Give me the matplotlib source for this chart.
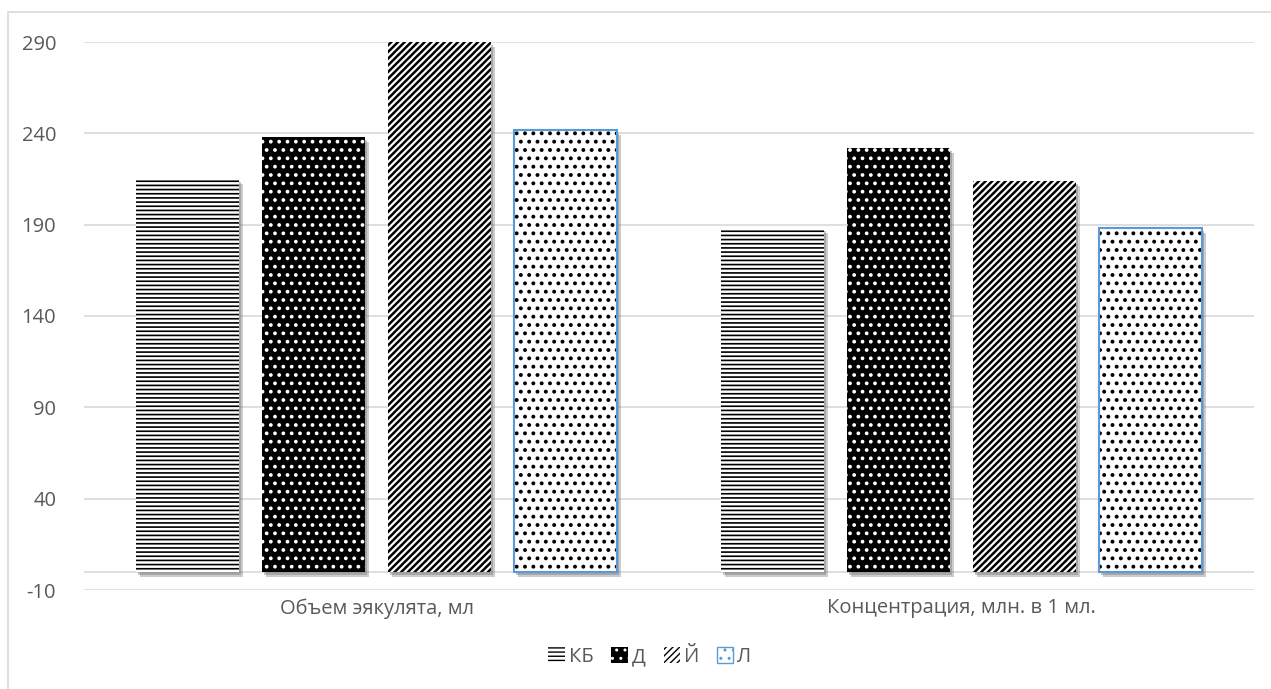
import matplotlib
matplotlib.use("Agg")
import matplotlib.pyplot as plt
from matplotlib.patches import Rectangle, Patch
import numpy as np

categories = ["Объем эякулята, мл", "Концентрация, млн. в 1 мл."]
series = ["КБ", "Д", "Й", "Л"]
kb = [215, 188]
d = [238, 232]
y_ = [290, 214]
l = [242, 188]
values = [kb, d, y_, l]
yticks = [-10, 40, 90, 140, 190, 240, 290]

plt.rcParams['font.family'] = ['Open Sans', 'DejaVu Sans']
plt.rcParams['axes.unicode_minus'] = False

fig = plt.figure(figsize=(12.71, 6.89), dpi=100)
ax = fig.add_axes([84/1271, 1-590/689, 1170/1271, 548/689])

styles = [
    dict(facecolor='white', edgecolor='black', hatch='----'),
    dict(facecolor='black', edgecolor='white', hatch='..'),
    dict(facecolor='white', edgecolor='black', hatch='/////'),
    dict(facecolor='white', edgecolor='black', hatch='..'),
]
hatch_lw = [1.2, 1.5, 1.8, 1.6]

x = np.arange(len(categories))
step = 0.2154
width = 0.176
sx = 4 / 585.0
sy = 5 * 300 / 548.0
for i, (name, vals, st) in enumerate(zip(series, values, styles)):
    pos = x + (i - 1.5) * step
    # soft shadow
    for k, a in zip([1.0, 0.6], [0.35, 0.4]):
        ax.bar(pos + sx * k, np.array(vals), width, bottom=-sy * k, color='#6F6F6F',
               alpha=a, linewidth=0, zorder=2)
    bars = ax.bar(pos, vals, width, linewidth=0, zorder=3, label=name, **st)
    for b in bars:
        if hasattr(b, 'set_hatch_linewidth'):
            b.set_hatch_linewidth(hatch_lw[i])
    if i == 3:
        ax.bar(pos, vals, width, fill=False, edgecolor='#5B9BD5', linewidth=1.5, zorder=4)

ax.set_xlim(-0.5, 1.5)
ax.set_ylim(-10, 290)
ax.set_yticks(yticks)
ax.set_xticks(x)
ax.set_xticklabels(categories)
ax.grid(axis='y', color='#D9D9D9', linewidth=1.2, zorder=0)
ax.axhline(0, color='#D9D9D9', linewidth=1.2, zorder=1)
for s in ax.spines.values():
    s.set_visible(False)
ax.tick_params(axis='both', length=0, labelsize=14.5, colors='#595959')
ax.tick_params(axis='y', pad=20)
ax.tick_params(axis='x', pad=6)

handles = []
for i, (name, st) in enumerate(zip(series, styles)):
    h = Patch(facecolor=st['facecolor'], edgecolor=st['edgecolor'], hatch=st['hatch'],
              linewidth=0, label=name)
    handles.append(h)
handles[3] = Patch(facecolor='white', edgecolor='#5B9BD5', hatch='..', linewidth=1.0, label='Л')
leg = fig.legend(handles=handles, loc='center', bbox_to_anchor=(650/1271, 1-657/689), ncol=4,
                 frameon=False, fontsize=14.5, handlelength=0.8, handleheight=0.8,
                 handletextpad=0.2, columnspacing=0.9)
for t in leg.get_texts():
    t.set_color('#595959')

fig.patches.append(Rectangle((8/1271, -0.02), 1.1, (689-12)/689 + 0.02, transform=fig.transFigure,
                             fill=False, edgecolor='#D9D9D9', linewidth=1.2, figure=fig))

fig.savefig("out.png", dpi=100)
